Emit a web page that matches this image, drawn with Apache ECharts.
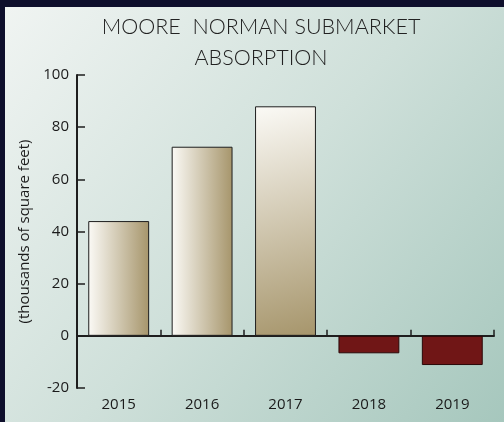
<!DOCTYPE html>
<html>
<head>
<meta charset="utf-8">
<style>
html,body{margin:0;padding:0;background:#0e0f2c;}
#c{width:504px;height:422px;}
</style>
<script src="https://cdn.jsdelivr.net/npm/echarts@6/dist/echarts.min.js"></script>
</head>
<body>
<div id="c"></div>
<script>
var categories = ['2015', '2016', '2017', '2018', '2019'];
var absorption = [44, 72.5, 88, -6.7, -11.2];
var yTicks = [-20, 0, 20, 40, 60, 80, 100];
var titleLines = ['MOORE  NORMAN SUBMARKET', 'ABSORPTION'];
var yAxisName = '(thousands of square feet)';

var chart = echarts.init(document.getElementById('c'), null, {renderer: 'canvas'});

function barStyle(v, i) {
  if (v < 0) {
    return {color: '#701616', borderColor: '#2a0808', borderWidth: 1};
  }
  var diag = (i === 2);
  return {
    color: new echarts.graphic.LinearGradient(0, 0, 1, diag ? 1 : 0, [
      {offset: 0, color: '#fbfaf6'},
      {offset: 1, color: '#a6956b'}
    ]),
    borderColor: '#1e1e1e',
    borderWidth: 1
  };
}

var barData = absorption.map(function (v, i) {
  return {value: v, itemStyle: barStyle(v, i)};
});

chart.setOption({
  backgroundColor: '#0e0f2c',
  animation: false,
  graphic: [{
    type: 'rect',
    left: 5, top: 7,
    shape: {width: 499, height: 415},
    style: {
      fill: new echarts.graphic.LinearGradient(0, 0, 1, 1, [
        {offset: 0, color: '#f0f4f2'},
        {offset: 0.5, color: '#cfe0da'},
        {offset: 1, color: '#a6c7bd'}
      ])
    },
    z: -10
  }],
  title: {
    text: titleLines.join('\n'),
    left: 256, top: 7,
    textAlign: 'center',
    textStyle: {
      fontFamily: 'Lato', fontWeight: 300, fontSize: 21.5,
      color: '#222222', lineHeight: 31
    }
  },
  grid: {left: 77, right: 10, top: 75, bottom: 34, containLabel: false},
  xAxis: [{
    type: 'category',
    data: categories,
    axisLine: {onZero: true, lineStyle: {color: '#1e1e1e', width: 2}},
    axisTick: {show: true, inside: true, length: 6, lineStyle: {color: '#1e1e1e', width: 1.5}},
    axisLabel: {show: false}
  }, {
    type: 'category',
    data: categories,
    position: 'bottom',
    axisLine: {show: false},
    axisTick: {show: false},
    axisLabel: {show: true, margin: 9, fontFamily: 'Open Sans', fontSize: 15, color: '#1a1a1a'}
  }],
  yAxis: {
    type: 'value',
    min: yTicks[0], max: yTicks[yTicks.length - 1], interval: 20,
    name: yAxisName,
    nameLocation: 'middle',
    nameGap: 44,
    nameTextStyle: {fontFamily: 'Open Sans', fontSize: 15, color: '#1a1a1a'},
    axisLine: {show: true, lineStyle: {color: '#1e1e1e', width: 2}},
    axisTick: {show: true, inside: true, length: 8, lineStyle: {color: '#1e1e1e', width: 1.5}},
    axisLabel: {margin: 8, fontFamily: 'Open Sans', fontSize: 15, color: '#1a1a1a'},
    splitLine: {show: false}
  },
  series: [{
    type: 'bar',
    xAxisIndex: 0,
    data: barData,
    barWidth: '73%'
  }]
});
</script>
</body>
</html>
